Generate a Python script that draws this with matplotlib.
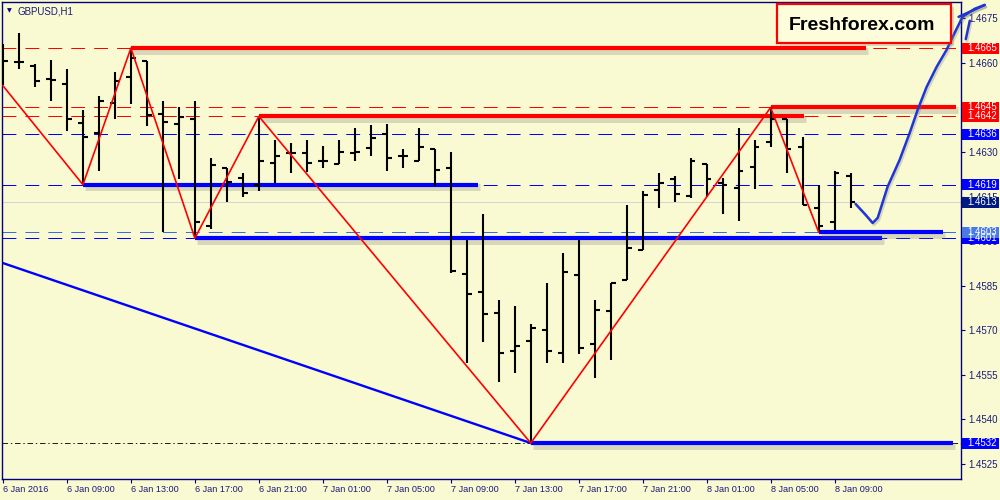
import matplotlib
matplotlib.use("Agg")
import matplotlib.pyplot as plt
import matplotlib.patheffects as pe
from matplotlib.patches import Rectangle
from matplotlib.transforms import blended_transform_factory
import numpy as np

plt.rcParams['lines.scale_dashes'] = False

# ---------------- data ----------------
symbol_title = "GBPUSD,H1"
x_tick_pos = [0, 4, 8, 12, 16, 20, 24, 28, 32, 36, 40, 44, 48, 52]
x_tick_labels = ["6 Jan 2016", "6 Jan 09:00", "6 Jan 13:00", "6 Jan 17:00", "6 Jan 21:00",
                 "7 Jan 01:00", "7 Jan 05:00", "7 Jan 09:00", "7 Jan 13:00", "7 Jan 17:00",
                 "7 Jan 21:00", "8 Jan 01:00", "8 Jan 05:00", "8 Jan 09:00"]
y_ticks = [1.4525, 1.4540, 1.4555, 1.4570, 1.4585, 1.4600, 1.4615, 1.4630, 1.4645, 1.4660, 1.4675]

opens = [1.46644, 1.46602, 1.46588, 1.46546, 1.46528, 1.46399, 1.46363, 1.46465, 1.46551, 1.46607,
         1.46428, 1.46393, 1.46410, 1.46051, 1.46247, 1.46213, 1.46189, 1.46262, 1.46298, 1.46298,
         1.46271, 1.46260, 1.46296, 1.46313, 1.46360, 1.46285, 1.46270, 1.46309, 1.46247, 1.45889,
         1.45830, 1.45759, 1.45630, 1.45662, 1.45699, 1.45623, 1.45886, 1.45653, 1.45763, 1.45869,
         1.45970, 1.46172, 1.46208, 1.46152, 1.46260, 1.46197, 1.46180, 1.46251, 1.46332, 1.46410,
         1.46318, 1.46111, 1.46063, 1.46218]
highs = [1.46664, 1.46699, 1.46597, 1.46610, 1.46579, 1.46442, 1.46489, 1.46570, 1.46650, 1.46607,
         1.46472, 1.46451, 1.46472, 1.46279, 1.46247, 1.46229, 1.46420, 1.46341, 1.46330, 1.46341,
         1.46321, 1.46341, 1.46382, 1.46391, 1.46395, 1.46309, 1.46380, 1.46309, 1.46299, 1.46004,
         1.46092, 1.45802, 1.45782, 1.45721, 1.45858, 1.45959, 1.46004, 1.45802, 1.45858, 1.46122,
         1.46167, 1.46229, 1.46220, 1.46279, 1.46260, 1.46212, 1.46380, 1.46341, 1.46450, 1.46410,
         1.46351, 1.46189, 1.46237, 1.46229]
lows = [1.46526, 1.46580, 1.46518, 1.46470, 1.46369, 1.46190, 1.46237, 1.46410, 1.46460, 1.46389,
        1.46030, 1.46208, 1.46010, 1.46040, 1.46130, 1.46150, 1.46167, 1.46197, 1.46229, 1.46234,
        1.46247, 1.46260, 1.46268, 1.46288, 1.46237, 1.46247, 1.46270, 1.46186, 1.45892, 1.45589,
        1.45660, 1.45527, 1.45557, 1.45320, 1.45589, 1.45589, 1.45619, 1.45538, 1.45598, 1.45869,
        1.45970, 1.46111, 1.46130, 1.46144, 1.46150, 1.46091, 1.46069, 1.46176, 1.46318, 1.46229,
        1.46122, 1.46030, 1.46038, 1.46111]
closes = [1.46607, 1.46602, 1.46539, 1.46543, 1.46411, 1.46352, 1.46470, 1.46538, 1.46618, 1.46423,
          1.46401, 1.46419, 1.46063, 1.46257, 1.46200, 1.46161, 1.46268, 1.46288, 1.46296, 1.46262,
          1.46271, 1.46299, 1.46299, 1.46348, 1.46281, 1.46285, 1.46318, 1.46240, 1.45900, 1.45822,
          1.45754, 1.45623, 1.45648, 1.45709, 1.45631, 1.45897, 1.45641, 1.45768, 1.45858, 1.45978,
          1.46156, 1.46197, 1.46159, 1.46268, 1.46208, 1.46189, 1.46237, 1.46318, 1.46410, 1.46310,
          1.46122, 1.46051, 1.46230, 1.46130]

# horizontal price levels
red_levels = [1.4665, 1.4645, 1.4642]
blue_levels = [1.4636, 1.4619, 1.4601]
light_blue_level = 1.4603
bid_price = 1.4613
low_level = 1.4532

# thick support / resistance segments (bar index from, bar index to, price)
red_seg_from = [8, 16, 48]
red_seg_to = [53.94, 50.06, 59.6]
red_seg_price = [1.4665, 1.4642, 1.4645]
blue_seg_from = [5, 12, 51, 33]
blue_seg_to = [29.7, 54.94, 58.75, 59.4]
blue_seg_price = [1.4619, 1.4601, 1.4603, 1.4532]

# zigzag
zz_idx = [0, 5, 8, 12, 16, 33, 48, 51]
zz_price = [1.46523, 1.4619, 1.4665, 1.4601, 1.4642, 1.4532, 1.4645, 1.4603]

# blue trend line
trend_idx = [0, 33]
trend_price = [1.45926, 1.4532]

# hand-drawn forecast arrow
fc_idx = [53.31, 53.88, 54.38, 54.69, 55.31, 56.06, 56.69, 57.19, 57.75, 58.38, 59.0, 59.5, 60.0, 60.75, 61.38]
fc_price = [1.46125, 1.46092, 1.46061, 1.46078, 1.46183, 1.46273, 1.46364, 1.46442, 1.46519, 1.46587,
            1.46644, 1.46701, 1.46755, 1.46782, 1.46795]
head1_idx = [59.75, 61.38]
head1_price = [1.46755, 1.46795]
head2_idx = [60.2, 60.45]
head2_price = [1.46680, 1.46742]

label_prices = [1.4532, 1.4601, 1.4603, 1.4613, 1.4619, 1.4636, 1.4642, 1.4645, 1.4665]

# ---------------- style ----------------
BG = '#fafad2'
NAVY = '#000080'
TXT = '#1a1a78'
RED = '#ff0000'
BLUE = '#0000ff'
LBLUE = '#4a7ae6'
DNAVY = '#001a80'

fig = plt.figure(figsize=(10, 5), dpi=100, facecolor=BG)
ax = fig.add_axes([0.002, 0.042, 0.959, 0.954], facecolor=BG)
ax.set_xlim(-0.06, 59.9)
ax.set_ylim(1.45199, 1.46805)

idx = np.arange(len(opens))
dash = (0, (10, 6.5))
thin = 0.72

# dashed level lines
for p in red_levels:
    ax.axhline(p, color=RED, lw=thin, ls=dash, zorder=1, snap=True)
for p in blue_levels:
    ax.axhline(p, color=BLUE, lw=thin, ls=dash, zorder=1, snap=True)
ax.axhline(light_blue_level, color='#3a6af0', lw=thin, ls=dash, zorder=1, snap=True)
ax.axhline(bid_price, color='#d4d4d4', lw=thin, zorder=1, snap=True)
ax.axhline(low_level, color='#222222', lw=thin, ls=(0, (4, 2, 1, 2)), zorder=1, snap=True)

shadow = [pe.SimpleLineShadow(offset=(1.5, -2), shadow_color='#606060', alpha=0.22, linewidth=5), pe.Normal()]
for a, b, p in zip(red_seg_from, red_seg_to, red_seg_price):
    ax.plot([a, b], [p, p], color=RED, lw=3, solid_capstyle='butt', path_effects=shadow, zorder=3)
for a, b, p in zip(blue_seg_from, blue_seg_to, blue_seg_price):
    ax.plot([a, b], [p, p], color=BLUE, lw=3, solid_capstyle='butt', path_effects=shadow, zorder=3)

# trend line and zigzag
ax.plot(trend_idx, trend_price, color=BLUE, lw=1.7, zorder=2)
ax.plot(zz_idx, zz_price, color=RED, lw=1.2, zorder=5)

# OHLC bars
ax.vlines(idx, lows, highs, color='black', lw=1.5, zorder=4)
ax.hlines(opens, idx - 0.3, idx, color='black', lw=1.5, zorder=4)
ax.hlines(closes, idx, idx + 0.3, color='black', lw=1.5, zorder=4)

# forecast arrow
for xs, ys in [(fc_idx, fc_price), (head1_idx, head1_price), (head2_idx, head2_price)]:
    ax.plot(xs, ys, color='#1f35d6', lw=1.8, clip_on=False, zorder=6,
            solid_capstyle='round', solid_joinstyle='round',
            path_effects=[pe.SimpleLineShadow(offset=(1, -1.5), shadow_color='#666666', alpha=0.25), pe.Normal()])

# axes styling
for s in ax.spines.values():
    s.set_color(NAVY)
    s.set_linewidth(1.0)
ax.set_xticks(x_tick_pos)
ax.set_xticklabels(x_tick_labels, fontsize=6.6, color=TXT, family='Liberation Sans')
for lbl in ax.get_xticklabels():
    lbl.set_horizontalalignment('left')
ax.tick_params(axis='x', length=3, width=0.8, color=NAVY, pad=1.5)
ax.yaxis.tick_right()
ax.set_yticks(y_ticks)
ax.set_yticklabels([f"{v:.4f}" for v in y_ticks], fontsize=7, color=TXT, family='Liberation Sans')
ax.tick_params(axis='y', length=3, width=0.8, color=NAVY, pad=2)

# price label boxes on the right axis
tr = blended_transform_factory(fig.transFigure, ax.transData)
px_h = (ax.get_ylim()[1] - ax.get_ylim()[0]) / (0.954 * 500)
box_h = 11 * px_h
for p in label_prices:
    if p in red_levels:
        c = RED
    elif p == light_blue_level:
        c = LBLUE
    elif p == bid_price:
        c = DNAVY
    else:
        c = BLUE
    fig.add_artist(Rectangle((0.962, p - box_h / 2), 0.037, box_h, transform=tr,
                             facecolor=c, edgecolor='none', zorder=10))
    fig.text(0.967, p, f"{p:.4f}", transform=tr, fontsize=7, color='white',
             family='Liberation Sans', va='center', ha='left', zorder=11)

# title
fig.text(0.007, 0.978, '▼', fontsize=4.5, color=NAVY, va='center', ha='left')
fig.text(0.018, 0.978, symbol_title, fontsize=7, color=TXT, family='Liberation Sans',
         va='center', ha='left')

# logo box
fig.add_artist(Rectangle((0.780, 0.908), 0.174, 0.078, transform=fig.transFigure,
                         facecolor='#888888', alpha=0.3, edgecolor='none', zorder=8))
fig.add_artist(Rectangle((0.777, 0.914), 0.174, 0.078, transform=fig.transFigure,
                         facecolor='#fdfddc', edgecolor=RED, linewidth=1.6, zorder=9))
fig.text(0.862, 0.940, "Freshforex.com", fontsize=14, fontweight='bold', color='black',
         family='Liberation Sans', ha='center', va='baseline', zorder=10)

fig.savefig('out.png', dpi=100, facecolor=BG)
